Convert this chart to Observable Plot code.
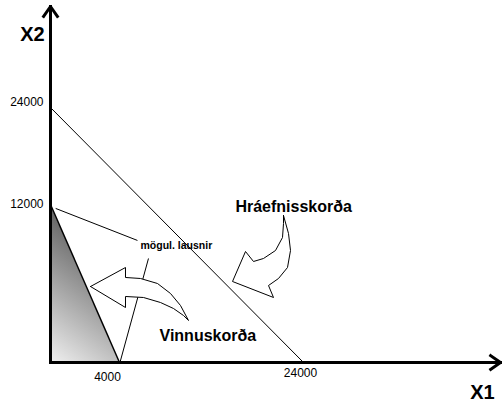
<!DOCTYPE html>
<html>
<head>
<meta charset="utf-8">
<script src="https://cdn.jsdelivr.net/npm/d3@7"></script>
<script src="https://cdn.jsdelivr.net/npm/@observablehq/plot@0.6"></script>
<style>
  html, body { margin: 0; padding: 0; background: #fff; }
</style>
</head>
<body>
<div id="chart"></div>
<script>
// ---- data ----
const constraintNames = ["Hráefnisskorða", "Vinnuskorða"];
const x1Intercepts = [24000, 4000];
const x2Intercepts = [24000, 12000];
const xTicks = [4000, 24000];
const yTicks = [12000, 24000];
const axisMax = {x: 30000, y: 36000};
const feasibleX = [0, 4000];
const feasibleY = [12000, 0];
const feasibleLeaderA = {x1: 300, y1: 11700, x2: 5950, y2: 9270};
const feasibleLeaderB = {x1: 7150, y1: 7900, x2: 4050, y2: 0};
const labelPos = [
  {text: "Hráefnisskorða", x: 16600, y: 11850, size: 16},
  {text: "Vinnuskorða", x: 8350, y: 2050, size: 16},
  {text: "mögul. lausnir", x: 6280, y: 8880, size: 10.5}
];
// decorative curved arrows (outlines in data units)
const arrowVinnuX = [2319, 4652, 4652, 6283, 8131, 9544, 10631, 11500, 10957, 9870, 8457, 6609, 4652, 4652, 2319];
const arrowVinnuY = [5772, 7215, 6456, 6380, 6000, 5241, 4329, 3190, 3570, 4101, 4557, 4937, 5013, 4177, 5772];
const arrowHraX = [21827, 22370, 22588, 22262, 21283, 20196, 20740, 16283, 17696, 18566, 19653, 20957, 21718, 21827, 21827];
const arrowHraY = [11165, 9798, 8506, 7215, 6380, 5848, 4937, 6152, 8430, 7671, 7899, 8506, 9494, 10557, 11165];

const pts = (xs, ys) => xs.map((x, i) => ({x, y: ys[i]}));
const constraints = constraintNames.map((name, i) => ({name, x1: 0, y1: x2Intercepts[i], x2: x1Intercepts[i], y2: 0}));
const feasible = pts(feasibleX, feasibleY);

const FONT = "'Liberation Sans', Arial, sans-serif";

const plot = Plot.plot({
  width: 502,
  height: 403,
  style: {fontFamily: FONT, background: "white", color: "black"},
  x: {type: "linear", domain: [0, 4000, 24000, axisMax.x], range: [50, 119, 303, 500], axis: null},
  y: {type: "linear", domain: [0, 12000, 24000, axisMax.y], range: [362, 204, 107, 6], axis: null},
  marks: [
    Plot.areaY(feasible, {x: "x", y: "y", fill: "url(#shade)"}),
    Plot.link(constraints.slice(0, 1), {x1: "x1", y1: "y1", x2: "x2", y2: "y2", stroke: "black", strokeWidth: 1}),
    Plot.link(constraints.slice(1), {x1: "x1", y1: "y1", x2: "x2", y2: "y2", stroke: "black", strokeWidth: 1.5}),
    Plot.link([feasibleLeaderA, feasibleLeaderB], {x1: "x1", y1: "y1", x2: "x2", y2: "y2", stroke: "black", strokeWidth: 1}),
    Plot.line(pts(arrowVinnuX, arrowVinnuY), {x: "x", y: "y", fill: "white", stroke: "black", strokeWidth: 1, strokeLinejoin: "miter"}),
    Plot.line(pts(arrowHraX, arrowHraY), {x: "x", y: "y", fill: "white", stroke: "black", strokeWidth: 1, strokeLinejoin: "miter"}),
    // axes with arrow heads
    Plot.arrow([{x1: 0, y1: 0, x2: 0, y2: axisMax.y}], {x1: "x1", y1: "y1", x2: "x2", y2: "y2", stroke: "black", strokeWidth: 3, headLength: 6, headAngle: 70, strokeLinecap: "square"}),
    Plot.arrow([{x1: 0, y1: 0, x2: axisMax.x, y2: 0}], {x1: "x1", y1: "y1", x2: "x2", y2: "y2", stroke: "black", strokeWidth: 3, headLength: 6, headAngle: 70, strokeLinecap: "square"}),
    // tick labels
    Plot.text(yTicks.filter(d => d === 24000), {x: 0, y: d => d, text: d => String(d), textAnchor: "end", dx: -7, dy: -5, fontSize: 12}),
    Plot.text(yTicks.filter(d => d === 12000), {x: 0, y: d => d, text: d => String(d), textAnchor: "end", dx: -7, dy: 0, fontSize: 12}),
    Plot.text(xTicks.filter(d => d === 4000), {x: d => d, y: 0, text: d => String(d), dx: -12, dy: 15, fontSize: 12}),
    Plot.text(xTicks.filter(d => d === 24000), {x: d => d, y: 0, text: d => String(d), dx: -3, dy: 11, fontSize: 12}),
    // axis titles
    Plot.text(["X2"], {x: 0, y: 32700, dx: -18, text: d => d, fontSize: 20, fontWeight: "bold"}),
    Plot.text(["X1"], {x: 29450, y: 0, dy: 30, text: d => d, fontSize: 20, fontWeight: "bold"}),
    // annotations
    Plot.text(labelPos, {x: "x", y: "y", text: "text", fontSize: d => d.size, fontWeight: "bold", textAnchor: "start"})
  ]
});

// gradient for the feasible region, placed with the plot's own scales
const sx = plot.scale("x"), sy = plot.scale("y");
const ox = sx.apply(0), oy = sy.apply(0);
const len = 0.77 * (oy - sy.apply(12000));
const defs = d3.select(plot).insert("defs", ":first-child");
const grad = defs.append("linearGradient")
  .attr("id", "shade")
  .attr("gradientUnits", "userSpaceOnUse")
  .attr("x1", ox).attr("y1", oy)
  .attr("x2", ox + 0.6 * len).attr("y2", oy - 0.8 * len);
grad.append("stop").attr("offset", 0).attr("stop-color", "#f0f0f0");
grad.append("stop").attr("offset", 1).attr("stop-color", "#666666");

document.getElementById("chart").append(plot);
</script>
</body>
</html>
